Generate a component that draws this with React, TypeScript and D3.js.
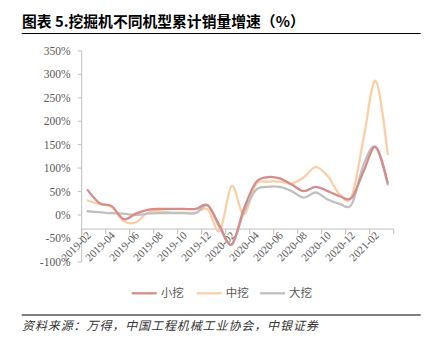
import React from "react";
import * as d3 from "d3";

const categories = [
  "2019-02","2019-03","2019-04","2019-05","2019-06","2019-07","2019-08","2019-09","2019-10","2019-11","2019-12",
  "2020-01","2020-02","2020-03","2020-04","2020-05","2020-06","2020-07","2020-08","2020-09","2020-10","2020-11","2020-12",
  "2021-01","2021-02","2021-03",
];
const smallExc = [53, 25, 19, -9, 3, 11, 13, 13, 13, 13, 21, -23, -63, 12, 69, 81, 78, 65, 51, 60, 51, 40, 37, 94, 145, 69];
const mediumExc = [31, 23, 17, -13, -16, 5, 8, 5, 5, 5, 12, -34, 62, 1, 65, 71, 71, 67, 80, 102, 83, 44, 40, 165, 286, 130];
const largeExc = [8, 6, 4, 3, 0, 3, 4, 4, 4, 4, 20, -27, -63, 5, 53, 60, 60, 51, 37, 48, 33, 24, 23, 108, 145, 65];
const yTicks = [350, 300, 250, 200, 150, 100, 50, 0, -50, -100];
const seriesNames = ["小挖", "中挖", "大挖"];
const colors = ["#D68C8A", "#FBCFA6", "#C0C0C0"];

export default function App() {
  const W = 433, H = 353;
  const x0 = 81.7, x1 = 393.7;
  const x = d3.scaleBand<string>().domain(categories).range([x0, x1]).padding(0);
  const bw = x.bandwidth();
  const cx = (c: string) => (x(c) as number) + bw / 2;
  const y = d3.scaleLinear().domain([-100, 350]).range([261.9, 50.9]);
  const axisY = y(-30);
  const line = d3.line<number>()
    .x((_, i) => cx(categories[i]))
    .y((d) => y(d))
    .curve(d3.curveCardinal.tension(0));
  const data = [smallExc, mediumExc, largeExc];
  const serif = "'Liberation Serif', 'Times New Roman', serif";
  const cjk = "'Noto Sans CJK SC', sans-serif";
  const tickXs = d3.range(0, categories.length + 1, 2).map((k) => x0 + k * bw);
  const legendX = [131.7, 196.7, 260];

  return (
    <svg width={W} height={H} style={{ position: "absolute", left: 0, top: 0 }}>
      <rect width={W} height={H} fill="#fff" />
      <text x={22} y={26.5} fontFamily={cjk} fontWeight="bold" fontSize={14.8} fill="#000">
        图表 5.挖掘机不同机型累计销量增速（%）
      </text>
      <line x1={21.7} x2={420.7} y1={33.5} y2={33.5} stroke="#000" strokeWidth={1.2} />

      {/* y axis */}
      <line x1={x0} x2={x0} y1={y(350)} y2={y(-100)} stroke="#BFBFBF" strokeWidth={1} />
      {yTicks.map((t) => (
        <g key={t}>
          <line x1={x0 - 4} x2={x0} y1={y(t)} y2={y(t)} stroke="#BFBFBF" />
          <text x={70.5} y={y(t)} dy="0.35em" textAnchor="end" fontFamily={serif} fontSize={11.5} fill="#595959">
            {t}%
          </text>
        </g>
      ))}

      {/* x axis */}
      <line x1={x0} x2={x1} y1={axisY} y2={axisY} stroke="#BFBFBF" strokeWidth={1} />
      {tickXs.map((tx, i) => (
        <line key={i} x1={tx} x2={tx} y1={axisY} y2={axisY + 5} stroke="#BFBFBF" />
      ))}
      {categories.map((c, i) =>
        i % 2 === 0 ? (
          <text
            key={c}
            transform={`translate(${cx(c) + 4},${axisY + 7}) rotate(-45)`}
            textAnchor="end"
            fontFamily={serif}
            fontSize={11}
            fill="#595959"
          >
            {c}
          </text>
        ) : null
      )}

      {/* lines */}
      {[1, 2, 0].map((k) => (
        <path key={k} d={line(data[k]) as string} fill="none" stroke={colors[k]} strokeWidth={2.3} strokeLinejoin="round" strokeLinecap="round" />
      ))}

      {/* legend */}
      {seriesNames.map((n, i) => (
        <g key={n}>
          <line x1={legendX[i]} x2={legendX[i] + 25} y1={293.3} y2={293.3} stroke={colors[i]} strokeWidth={2.3} />
          <text x={legendX[i] + 29} y={293.3} dy="0.35em" fontFamily={cjk} fontSize={11.5} fill="#595959">
            {n}
          </text>
        </g>
      ))}

      <line x1={21.7} x2={420.7} y1={315} y2={315} stroke="#000" strokeWidth={1.2} />
      <text x={22} y={329.5} fontFamily={cjk} fontStyle="italic" fontSize={12} letterSpacing={0.9} fill="#333">
        资料来源：万得，中国工程机械工业协会，中银证券
      </text>
    </svg>
  );
}
